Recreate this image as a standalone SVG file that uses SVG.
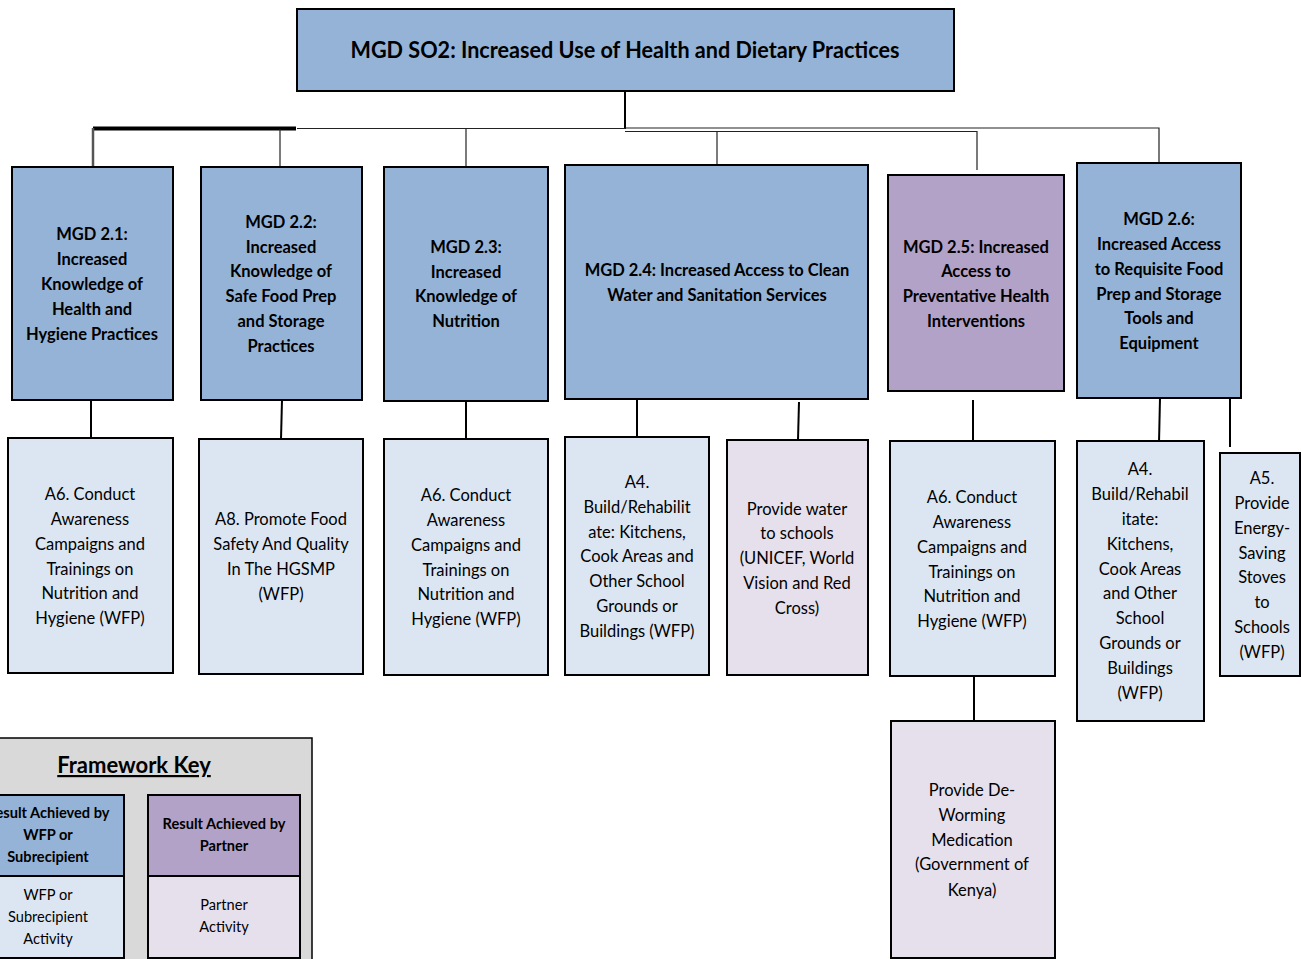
<svg xmlns="http://www.w3.org/2000/svg" width="1301" height="959" viewBox="0 0 1301 959">
<style>
.res{fill:#95B3D7;stroke:#000;stroke-width:2}
.par{fill:#B3A2C7;stroke:#000;stroke-width:2}
.act{fill:#DCE6F2;stroke:#000;stroke-width:2}
.pact{fill:#E6E0EC;stroke:#000;stroke-width:2}
.key{fill:#D9D9D9;stroke:#000;stroke-width:1.5}
.c{stroke:#222;stroke-width:1.2;fill:none}
.c2{stroke:#000;stroke-width:2;fill:none}
text{font-family:Lato,"Liberation Sans",sans-serif;text-anchor:middle;fill:#000}
.t2{font-size:16.5px;font-weight:bold}
.t3{font-size:16.5px}
.kt{font-size:14.6px}
.kb{font-size:14.6px;font-weight:bold}
</style>
<rect width="1301" height="959" fill="#fff"/>
<g id="connectors">
<path class="c2" d="M625 91 V129"/>
<path class="c" d="M625 128.5 H297"/>
<path d="M93 128.5 H296" stroke="#000" stroke-width="4"/>
<path d="M93 128 V167" stroke="#555" stroke-width="2.5"/>
<path class="c" d="M280 129 V167"/>
<path class="c" d="M466 129 V167"/>
<path class="c" d="M625 128 H1159 V163"/>
<path class="c" d="M625 131.5 H977 V170"/>
<path class="c" d="M717 131 V165"/>
<path class="c2" d="M91 400 V438"/>
<path class="c2" d="M282 400 L281 439"/>
<path class="c2" d="M466 401 V439"/>
<path class="c2" d="M637 399 V437"/>
<path class="c2" d="M799 402 L798 440"/>
<path class="c2" d="M973 400 V441"/>
<path class="c2" d="M1160 398 L1159 443"/>
<path class="c2" d="M1230 398 V447"/>
<path class="c2" d="M974 676 V721"/>
</g>
<g id="so2">
<rect class="res" x="297" y="9" width="657" height="82"/>
<text x="625" y="58" style="font-size:22px;font-weight:bold" textLength="549" lengthAdjust="spacingAndGlyphs">MGD SO2: Increased Use of Health and Dietary Practices</text>
</g>
<g id="mgd21">
<rect class="res" x="12" y="167" width="161" height="233"/>
<text class="t2" x="92"><tspan x="92" y="240">MGD 2.1:</tspan><tspan x="92" y="265">Increased</tspan><tspan x="92" y="290">Knowledge of</tspan><tspan x="92" y="315">Health and</tspan><tspan x="92" y="340">Hygiene Practices</tspan></text>
</g>
<g id="mgd22">
<rect class="res" x="201" y="167" width="161" height="233"/>
<text class="t2"><tspan x="281" y="228">MGD 2.2:</tspan><tspan x="281" y="253">Increased</tspan><tspan x="281" y="277">Knowledge of</tspan><tspan x="281" y="302">Safe Food Prep</tspan><tspan x="281" y="327">and Storage</tspan><tspan x="281" y="352">Practices</tspan></text>
</g>
<g id="mgd23">
<rect class="res" x="384" y="167" width="164" height="234"/>
<text class="t2"><tspan x="466" y="253">MGD 2.3:</tspan><tspan x="466" y="278">Increased</tspan><tspan x="466" y="302">Knowledge of</tspan><tspan x="466" y="327">Nutrition</tspan></text>
</g>
<g id="mgd24">
<rect class="res" x="565" y="165" width="303" height="234"/>
<text class="t2"><tspan x="717" y="276">MGD 2.4: Increased Access to Clean</tspan><tspan x="717" y="301">Water and Sanitation Services</tspan></text>
</g>
<g id="mgd25">
<rect class="par" x="888" y="175" width="176" height="216"/>
<text class="t2"><tspan x="976" y="253">MGD 2.5: Increased</tspan><tspan x="976" y="277">Access to</tspan><tspan x="976" y="302">Preventative Health</tspan><tspan x="976" y="327">Interventions</tspan></text>
</g>
<g id="mgd26">
<rect class="res" x="1077" y="163" width="164" height="235"/>
<text class="t2"><tspan x="1159" y="225">MGD 2.6:</tspan><tspan x="1159" y="250">Increased Access</tspan><tspan x="1159" y="275">to Requisite Food</tspan><tspan x="1159" y="300">Prep and Storage</tspan><tspan x="1159" y="324">Tools and</tspan><tspan x="1159" y="349">Equipment</tspan></text>
</g>
<g id="a6-1">
<rect class="act" x="8" y="438" width="165" height="235"/>
<text class="t3"><tspan x="90" y="500">A6. Conduct</tspan><tspan x="90" y="525">Awareness</tspan><tspan x="90" y="550">Campaigns and</tspan><tspan x="90" y="575">Trainings on</tspan><tspan x="90" y="599">Nutrition and</tspan><tspan x="90" y="624">Hygiene (WFP)</tspan></text>
</g>
<g id="a8">
<rect class="act" x="199" y="439" width="164" height="235"/>
<text class="t3"><tspan x="281" y="525">A8. Promote Food</tspan><tspan x="281" y="550">Safety And Quality</tspan><tspan x="281" y="575">In The HGSMP</tspan><tspan x="281" y="600">(WFP)</tspan></text>
</g>
<g id="a6-2">
<rect class="act" x="384" y="439" width="164" height="236"/>
<text class="t3"><tspan x="466" y="501">A6. Conduct</tspan><tspan x="466" y="526">Awareness</tspan><tspan x="466" y="551">Campaigns and</tspan><tspan x="466" y="576">Trainings on</tspan><tspan x="466" y="600">Nutrition and</tspan><tspan x="466" y="625">Hygiene (WFP)</tspan></text>
</g>
<g id="a4-1">
<rect class="act" x="565" y="437" width="144" height="238"/>
<text class="t3"><tspan x="637" y="488">A4.</tspan><tspan x="637" y="513">Build/Rehabilit</tspan><tspan x="637" y="538">ate: Kitchens,</tspan><tspan x="637" y="562">Cook Areas and</tspan><tspan x="637" y="587">Other School</tspan><tspan x="637" y="612">Grounds or</tspan><tspan x="637" y="637">Buildings (WFP)</tspan></text>
</g>
<g id="water">
<rect class="pact" x="727" y="440" width="141" height="235"/>
<text class="t3"><tspan x="797" y="515">Provide water</tspan><tspan x="797" y="539">to schools</tspan><tspan x="797" y="564">(UNICEF, World</tspan><tspan x="797" y="589">Vision and Red</tspan><tspan x="797" y="614">Cross)</tspan></text>
</g>
<g id="a6-3">
<rect class="act" x="890" y="441" width="165" height="235"/>
<text class="t3"><tspan x="972" y="503">A6. Conduct</tspan><tspan x="972" y="528">Awareness</tspan><tspan x="972" y="553">Campaigns and</tspan><tspan x="972" y="578">Trainings on</tspan><tspan x="972" y="602">Nutrition and</tspan><tspan x="972" y="627">Hygiene (WFP)</tspan></text>
</g>
<g id="deworm">
<rect class="pact" x="891" y="721" width="164" height="237"/>
<text class="t3"><tspan x="972" y="796">Provide De-</tspan><tspan x="972" y="821">Worming</tspan><tspan x="972" y="846">Medication</tspan><tspan x="972" y="870">(Government of</tspan><tspan x="972" y="896">Kenya)</tspan></text>
</g>
<g id="a4-2">
<rect class="act" x="1077" y="441" width="127" height="280"/>
<text class="t3"><tspan x="1140" y="475">A4.</tspan><tspan x="1140" y="500">Build/Rehabil</tspan><tspan x="1140" y="525">itate:</tspan><tspan x="1140" y="550">Kitchens,</tspan><tspan x="1140" y="575">Cook Areas</tspan><tspan x="1140" y="599">and Other</tspan><tspan x="1140" y="624">School</tspan><tspan x="1140" y="649">Grounds or</tspan><tspan x="1140" y="674">Buildings</tspan><tspan x="1140" y="699">(WFP)</tspan></text>
</g>
<g id="a5">
<rect class="act" x="1220" y="453" width="80" height="223"/>
<text class="t3"><tspan x="1262" y="484">A5.</tspan><tspan x="1262" y="509">Provide</tspan><tspan x="1262" y="534">Energy-</tspan><tspan x="1262" y="559">Saving</tspan><tspan x="1262" y="583">Stoves</tspan><tspan x="1262" y="608">to</tspan><tspan x="1262" y="633">Schools</tspan><tspan x="1262" y="658">(WFP)</tspan></text>
</g>
<g id="framework-key">
<rect class="key" x="-10" y="738" width="322" height="240"/>
<text x="134" y="773" style="font-size:22px;font-weight:bold;text-decoration:underline">Framework Key</text>
<rect class="res" x="-28" y="795" width="152" height="81"/>
<rect class="act" x="-28" y="876" width="152" height="82"/>
<rect class="par" x="148" y="795" width="152" height="81"/>
<rect class="pact" x="148" y="876" width="152" height="82"/>
<text class="kb"><tspan x="48" y="818">Result Achieved by</tspan><tspan x="48" y="840">WFP or</tspan><tspan x="48" y="862">Subrecipient</tspan></text>
<text class="kb"><tspan x="224" y="829">Result Achieved by</tspan><tspan x="224" y="851">Partner</tspan></text>
<text class="kt"><tspan x="48" y="900">WFP or</tspan><tspan x="48" y="922">Subrecipient</tspan><tspan x="48" y="944">Activity</tspan></text>
<text class="kt"><tspan x="224" y="910">Partner</tspan><tspan x="224" y="932">Activity</tspan></text>
</g>
</svg>
